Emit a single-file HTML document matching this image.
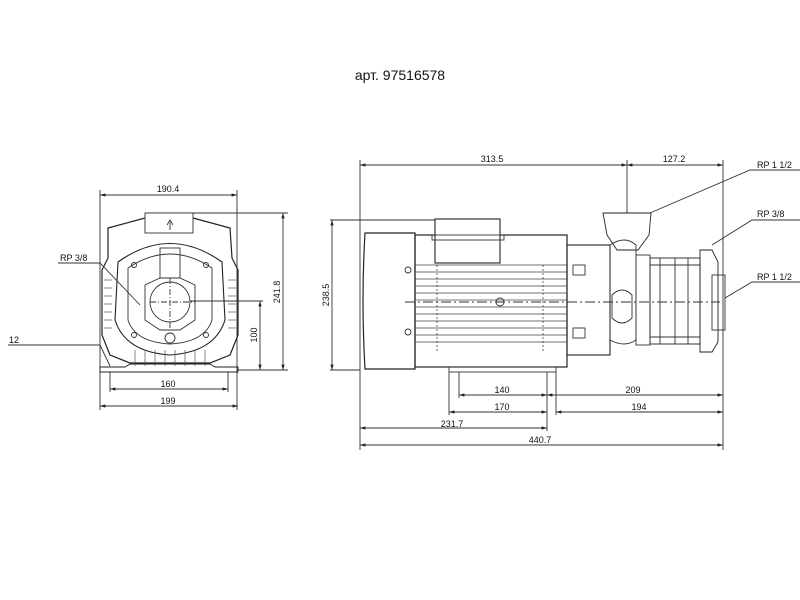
<!DOCTYPE html>
<html><head><meta charset="utf-8"><style>
html,body{margin:0;padding:0;background:#fff;}
svg{display:block;font-family:"Liberation Sans",sans-serif;}
</style></head><body>
<svg width="800" height="600" viewBox="0 0 800 600" xmlns="http://www.w3.org/2000/svg">
<defs>
<marker id="a" viewBox="0 0 10 10" refX="10" refY="5" markerWidth="6" markerHeight="6" orient="auto-start-reverse"><path d="M0,2 L10,5 L0,8 z" fill="#222"/></marker>
</defs>
<text x="400" y="80" font-size="14" text-anchor="middle" fill="#111">арт. 97516578</text>

<g stroke="#333" stroke-width="0.9" fill="none">
<!-- LEFT VIEW -->
<line x1="100" y1="190" x2="100" y2="410"/>
<line x1="237" y1="190" x2="237" y2="410"/>
<line x1="100" y1="195" x2="237" y2="195" marker-start="url(#a)" marker-end="url(#a)"/>
<line x1="145" y1="213" x2="288" y2="213"/>
<line x1="283" y1="213" x2="283" y2="370" marker-start="url(#a)" marker-end="url(#a)"/>
<line x1="190" y1="301" x2="263" y2="301"/>
<line x1="260" y1="301" x2="260" y2="370" marker-start="url(#a)" marker-end="url(#a)"/>
<line x1="238" y1="370" x2="288" y2="370"/>
<line x1="110" y1="372" x2="110" y2="392"/>
<line x1="228" y1="372" x2="228" y2="392"/>
<line x1="110" y1="389" x2="228" y2="389" marker-start="url(#a)" marker-end="url(#a)"/>
<line x1="100" y1="406" x2="238" y2="406" marker-start="url(#a)" marker-end="url(#a)"/>
<!-- body -->
<path d="M108,228 L145,218 L193,218 L230,228 L232,258 L238,270 L238,335 L230,355 L210,363 L130,363 L110,355 L102,335 L102,270 L108,258 Z" stroke="#222" stroke-width="1.2"/>
<rect x="145" y="213" width="48" height="20" fill="#fff"/>
<path d="M170,230 L170,222 M167,225 L170,220 L173,225" />
<path d="M118,262 Q170,225 222,262 L225,320 Q215,352 170,355 Q125,352 115,320 Z" stroke="#222" stroke-width="1.1"/>
<path d="M128,268 Q170,240 212,268 L212,320 Q205,342 170,344 Q135,342 128,320 Z"/>
<path d="M145,285 L160,278 L180,278 L195,285 L195,320 L180,330 L160,330 L145,320 Z"/>
<circle cx="170" cy="302" r="20"/>
<circle cx="170" cy="338" r="5"/>
<rect x="160" y="248" width="20" height="30"/>
<circle cx="134" cy="265" r="2.5"/><circle cx="206" cy="265" r="2.5"/>
<circle cx="134" cy="335" r="2.5"/><circle cx="206" cy="335" r="2.5"/>
<g stroke="#555" stroke-width="0.7">
<line x1="104" y1="280" x2="112" y2="280"/><line x1="104" y1="288" x2="112" y2="288"/><line x1="104" y1="296" x2="112" y2="296"/><line x1="104" y1="304" x2="112" y2="304"/><line x1="104" y1="312" x2="112" y2="312"/><line x1="104" y1="320" x2="112" y2="320"/><line x1="104" y1="328" x2="112" y2="328"/>
<line x1="228" y1="280" x2="236" y2="280"/><line x1="228" y1="288" x2="236" y2="288"/><line x1="228" y1="296" x2="236" y2="296"/><line x1="228" y1="304" x2="236" y2="304"/><line x1="228" y1="312" x2="236" y2="312"/><line x1="228" y1="320" x2="236" y2="320"/><line x1="228" y1="328" x2="236" y2="328"/>
<line x1="135" y1="350" x2="135" y2="366"/><line x1="145" y1="350" x2="145" y2="366"/><line x1="155" y1="350" x2="155" y2="366"/><line x1="165" y1="350" x2="165" y2="366"/><line x1="175" y1="350" x2="175" y2="366"/><line x1="185" y1="350" x2="185" y2="366"/><line x1="195" y1="350" x2="195" y2="366"/><line x1="205" y1="350" x2="205" y2="366"/>
</g>
<path d="M100,367 L100,372 L238,372 L238,367 L215,367 L210,364 L130,364 L125,367 Z" stroke="#222"/>
<path d="M58,263 L100,263 L140,305"/>
<path d="M8,345 L100,345 L110,366"/>
<line x1="150" y1="302" x2="195" y2="302" stroke-dasharray="6,2,1,2"/>
<line x1="170" y1="278" x2="170" y2="328" stroke-dasharray="6,2,1,2"/>

<!-- RIGHT VIEW -->
<line x1="360" y1="160" x2="360" y2="450"/>
<line x1="723" y1="160" x2="723" y2="450"/>
<line x1="627" y1="160" x2="627" y2="230"/>
<line x1="360" y1="165" x2="627" y2="165" marker-start="url(#a)" marker-end="url(#a)"/>
<line x1="627" y1="165" x2="723" y2="165" marker-start="url(#a)" marker-end="url(#a)"/>
<line x1="330" y1="220" x2="435" y2="220"/>
<line x1="330" y1="370" x2="360" y2="370"/>
<line x1="332" y1="220" x2="332" y2="370" marker-start="url(#a)" marker-end="url(#a)"/>
<!-- fan cover -->
<path d="M365,233 L415,233 L415,369 L365,369 Q361,300 365,233 Z" stroke="#222" stroke-width="1.2"/>
<!-- motor -->
<rect x="415" y="235" width="152" height="132" stroke="#222" stroke-width="1.2"/>
<rect x="435" y="219" width="65" height="44" stroke="#222" stroke-width="1.1" fill="#fff"/>
<rect x="432" y="235" width="72" height="5"/>
<g stroke="#444" stroke-width="0.8">
<line x1="415" y1="265" x2="567" y2="265"/><line x1="415" y1="272" x2="567" y2="272"/><line x1="415" y1="279" x2="567" y2="279"/><line x1="415" y1="286" x2="567" y2="286"/><line x1="415" y1="293" x2="567" y2="293"/><line x1="415" y1="300" x2="567" y2="300"/><line x1="415" y1="307" x2="567" y2="307"/><line x1="415" y1="314" x2="567" y2="314"/><line x1="415" y1="321" x2="567" y2="321"/><line x1="415" y1="328" x2="567" y2="328"/><line x1="415" y1="335" x2="567" y2="335"/><line x1="415" y1="342" x2="567" y2="342"/>
<line x1="437" y1="265" x2="437" y2="352" stroke-dasharray="2,2"/><line x1="543" y1="265" x2="543" y2="352" stroke-dasharray="2,2"/>
</g>
<circle cx="500" cy="302" r="4"/>
<circle cx="408" cy="270" r="3"/><circle cx="408" cy="332" r="3"/>
<!-- flange -->
<rect x="567" y="245" width="43" height="110" stroke="#222" stroke-width="1.1"/>
<rect x="573" y="265" width="12" height="10"/><rect x="573" y="328" width="12" height="10"/>
<!-- pump head -->
<path d="M603,213 L651,213 L649,235 L638,250 L617,250 L607,235 Z" stroke="#222" fill="#fff"/>
<path d="M610,245 Q625,235 636,245 L636,340 Q625,348 610,340 Z"/>
<path d="M612,295 Q622,285 632,295 L632,318 Q622,328 612,318 Z"/>
<rect x="636" y="255" width="14" height="90"/>
<rect x="650" y="258" width="50" height="86" stroke="#222"/>
<line x1="650" y1="265" x2="700" y2="265"/><line x1="650" y1="337" x2="700" y2="337"/>
<line x1="660" y1="258" x2="660" y2="344"/><line x1="675" y1="258" x2="675" y2="344"/><line x1="688" y1="258" x2="688" y2="344"/>
<path d="M700,250 L712,250 L718,262 L718,342 L712,352 L700,352 Z" stroke="#222"/>
<rect x="712" y="275" width="13" height="55"/>
<!-- feet -->
<rect x="449" y="367" width="107" height="5"/>
<line x1="459" y1="372" x2="459" y2="398"/><line x1="547" y1="372" x2="547" y2="431"/><line x1="449" y1="372" x2="449" y2="415"/><line x1="556" y1="372" x2="556" y2="415"/>
<line x1="459" y1="395" x2="547" y2="395" marker-start="url(#a)" marker-end="url(#a)"/>
<line x1="547" y1="395" x2="723" y2="395" marker-start="url(#a)" marker-end="url(#a)"/>
<line x1="449" y1="412" x2="547" y2="412" marker-start="url(#a)" marker-end="url(#a)"/>
<line x1="556" y1="412" x2="723" y2="412" marker-start="url(#a)" marker-end="url(#a)"/>
<line x1="360" y1="428" x2="547" y2="428" marker-start="url(#a)" marker-end="url(#a)"/>
<line x1="360" y1="445" x2="723" y2="445" marker-start="url(#a)" marker-end="url(#a)"/>
<line x1="405" y1="302" x2="720" y2="302" stroke-dasharray="10,3,2,3"/>
<!-- leaders -->
<path d="M800,170 L750,170 L650,213"/>
<path d="M800,220 L752,220 L712,245"/>
<path d="M800,282 L752,282 L725,298"/>
</g>

<g font-size="9" fill="#111">
<text x="168" y="192" text-anchor="middle">190.4</text>
<text x="60" y="261">RP 3/8</text>
<text x="9" y="343">12</text>
<text x="168" y="387" text-anchor="middle">160</text>
<text x="168" y="404" text-anchor="middle">199</text>
<text transform="translate(280,292) rotate(-90)" text-anchor="middle">241.8</text>
<text transform="translate(257,335) rotate(-90)" text-anchor="middle">100</text>
<text transform="translate(329,295) rotate(-90)" text-anchor="middle">238.5</text>
<text x="492" y="162" text-anchor="middle">313.5</text>
<text x="674" y="162" text-anchor="middle">127.2</text>
<text x="757" y="168">RP 1 1/2</text>
<text x="757" y="217">RP 3/8</text>
<text x="757" y="280">RP 1 1/2</text>
<text x="502" y="393" text-anchor="middle">140</text>
<text x="633" y="393" text-anchor="middle">209</text>
<text x="502" y="410" text-anchor="middle">170</text>
<text x="639" y="410" text-anchor="middle">194</text>
<text x="452" y="427" text-anchor="middle">231.7</text>
<text x="540" y="443" text-anchor="middle">440.7</text>
</g>
</svg>
</body></html>
